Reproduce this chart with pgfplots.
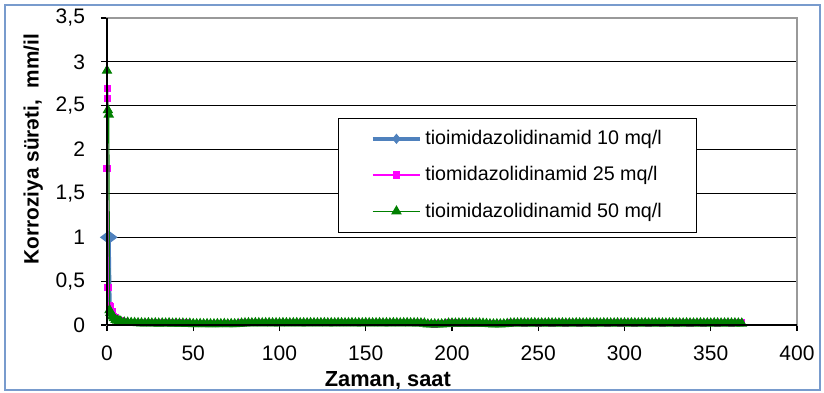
\documentclass[border=0pt]{standalone}
\usepackage{fontspec}
\setmainfont{Liberation Sans}
\usepackage{pgfplots}
\usepackage{pgfplotstable}
\pgfplotsset{compat=1.18}
\definecolor{exblue}{RGB}{79,129,189}
\definecolor{frameblue}{RGB}{120,155,205}
\definecolor{exgreen}{RGB}{0,128,0}
\definecolor{exmag}{RGB}{255,0,255}
\pgfplotsset{
  std legend/.style={legend image code/.code={\draw[##1, mark indices={2}] plot coordinates {(0cm,0cm) (0.42cm,0cm) (0.84cm,0cm)};}},
  blue legend/.style={legend image code/.code={\draw[##1, mark indices={2}, mark size=2.2pt, mark options={line width=0.5pt, xscale=1.1}] plot coordinates {(0cm,0cm) (0.42cm,0cm) (0.84cm,0cm)};}},
}

\pgfplotstableread[row sep=\\]{
x y\\
1 1.00\\ 1.6 0.15\\ 2 0.10\\ 4 0.07\\ 6 0.05\\ 8 0.04\\ 12 0.03\\ 20 0.022\\ 28 0.020\\ 36 0.019\\ 44 0.017\\ 52 0.012\\ 60 0.011\\ 68 0.012\\ 76 0.013\\ 84 0.021\\ 92 0.022\\ 100 0.021\\ 108 0.022\\ 116 0.021\\ 124 0.022\\ 132 0.021\\ 140 0.022\\ 148 0.021\\ 156 0.022\\ 164 0.021\\ 172 0.022\\ 180 0.021\\ 188 0.009\\ 196 0.010\\ 204 0.018\\ 212 0.019\\ 220 0.018\\ 228 0.011\\ 236 0.020\\ 244 0.021\\ 252 0.020\\ 260 0.021\\ 268 0.020\\ 276 0.021\\ 284 0.020\\ 292 0.021\\ 300 0.020\\ 308 0.021\\ 316 0.020\\ 324 0.021\\ 332 0.020\\ 340 0.021\\ 348 0.020\\ 356 0.021\\ 364 0.020\\ 368 0.019\\
}\tblue

\pgfplotstableread[row sep=\\]{
x y\\
0 1.78\\ 0.2 2.58\\ 0.4 2.70\\ 0.6 0.43\\ 1.5 0.22\\ 2 0.21\\ 3 0.15\\ 4 0.10\\ 5 0.08\\ 6 0.06\\ 8 0.05\\ 10 0.04\\ 14 0.032\\ 18 0.028\\ 22 0.026\\ 26 0.027\\ 30 0.025\\ 34 0.026\\ 38 0.024\\ 42 0.025\\ 46 0.022\\ 50 0.016\\ 54 0.015\\ 58 0.016\\ 62 0.014\\ 66 0.016\\ 70 0.015\\ 74 0.016\\ 78 0.022\\ 82 0.025\\ 86 0.026\\ 90 0.025\\ 94 0.026\\ 98 0.025\\ 102 0.027\\ 106 0.030\\ 110 0.026\\ 114 0.025\\ 118 0.026\\ 122 0.025\\ 126 0.026\\ 130 0.025\\ 134 0.026\\ 138 0.025\\ 142 0.026\\ 146 0.025\\ 150 0.026\\ 154 0.025\\ 158 0.026\\ 162 0.025\\ 166 0.026\\ 170 0.025\\ 174 0.026\\ 178 0.025\\ 182 0.024\\ 186 0.013\\ 190 0.012\\ 194 0.013\\ 198 0.022\\ 202 0.023\\ 206 0.022\\ 210 0.023\\ 214 0.022\\ 218 0.021\\ 222 0.015\\ 226 0.014\\ 230 0.015\\ 234 0.023\\ 238 0.024\\ 242 0.023\\ 246 0.024\\ 250 0.023\\ 254 0.024\\ 258 0.023\\ 262 0.024\\ 266 0.023\\ 270 0.024\\ 274 0.023\\ 278 0.024\\ 282 0.023\\ 286 0.024\\ 290 0.023\\ 294 0.024\\ 298 0.023\\ 302 0.024\\ 306 0.023\\ 310 0.024\\ 314 0.023\\ 318 0.024\\ 322 0.023\\ 326 0.024\\ 330 0.023\\ 334 0.024\\ 338 0.023\\ 342 0.024\\ 346 0.023\\ 350 0.024\\ 354 0.023\\ 358 0.024\\ 362 0.023\\ 366 0.026\\ 368 0.024\\
}\tpink

\pgfplotstableread[row sep=\\]{
x y\\
0 2.90\\ 0.5 2.45\\ 1 2.40\\ 1.5 0.17\\ 2 0.14\\ 3 0.10\\ 4 0.08\\ 5 0.06\\ 6 0.05\\ 7 0.045\\ 8 0.040\\
10 0.030\\ 12 0.028\\ 14 0.025\\ 16 0.024\\ 18 0.022\\ 20 0.021\\ 22 0.020\\ 24 0.022\\ 26 0.019\\ 28 0.021\\ 30 0.018\\ 32 0.020\\ 34 0.019\\ 36 0.021\\ 38 0.017\\ 40 0.019\\ 42 0.016\\ 44 0.018\\ 46 0.015\\ 48 0.017\\
50 0.012\\ 52 0.011\\ 54 0.013\\ 56 0.010\\ 58 0.012\\ 60 0.011\\ 62 0.010\\ 64 0.012\\ 66 0.011\\ 68 0.013\\ 70 0.010\\ 72 0.012\\ 74 0.011\\ 76 0.013\\ 78 0.018\\
80 0.021\\ 82 0.022\\ 84 0.021\\ 86 0.023\\ 88 0.022\\ 90 0.021\\ 92 0.022\\ 94 0.023\\ 96 0.021\\ 98 0.022\\ 100 0.021\\ 102 0.023\\ 104 0.022\\ 106 0.021\\ 108 0.022\\ 110 0.023\\ 112 0.021\\ 114 0.022\\ 116 0.021\\ 118 0.023\\ 120 0.022\\ 122 0.021\\ 124 0.022\\ 126 0.023\\ 128 0.021\\ 130 0.022\\ 132 0.021\\ 134 0.023\\ 136 0.022\\ 138 0.021\\ 140 0.022\\ 142 0.023\\ 144 0.021\\ 146 0.022\\ 148 0.021\\ 150 0.023\\ 152 0.022\\ 154 0.021\\ 156 0.022\\ 158 0.023\\ 160 0.021\\ 162 0.022\\ 164 0.021\\ 166 0.023\\ 168 0.022\\ 170 0.021\\ 172 0.022\\ 174 0.023\\ 176 0.021\\ 178 0.022\\ 180 0.021\\ 182 0.020\\ 184 0.018\\
186 0.009\\ 188 0.008\\ 190 0.009\\ 192 0.008\\ 194 0.009\\ 196 0.012\\
198 0.018\\ 200 0.019\\ 202 0.018\\ 204 0.019\\ 206 0.018\\ 208 0.019\\ 210 0.018\\ 212 0.019\\ 214 0.018\\ 216 0.019\\ 218 0.017\\ 220 0.014\\
222 0.010\\ 224 0.009\\ 226 0.010\\ 228 0.009\\ 230 0.010\\ 232 0.014\\
234 0.019\\ 236 0.020\\ 238 0.019\\ 240 0.021\\ 242 0.020\\ 244 0.019\\ 246 0.020\\ 248 0.021\\ 250 0.019\\ 252 0.020\\ 254 0.019\\ 256 0.021\\ 258 0.020\\ 260 0.019\\ 262 0.020\\ 264 0.021\\ 266 0.019\\ 268 0.020\\ 270 0.019\\ 272 0.021\\ 274 0.020\\ 276 0.019\\ 278 0.020\\ 280 0.021\\ 282 0.019\\ 284 0.020\\ 286 0.019\\ 288 0.021\\ 290 0.020\\ 292 0.019\\ 294 0.020\\ 296 0.021\\ 298 0.019\\ 300 0.020\\ 302 0.019\\ 304 0.021\\ 306 0.020\\ 308 0.019\\ 310 0.020\\ 312 0.021\\ 314 0.019\\ 316 0.020\\ 318 0.019\\ 320 0.021\\ 322 0.020\\ 324 0.019\\ 326 0.020\\ 328 0.021\\ 330 0.019\\ 332 0.020\\ 334 0.019\\ 336 0.021\\ 338 0.020\\ 340 0.019\\ 342 0.020\\ 344 0.021\\ 346 0.019\\ 348 0.020\\ 350 0.019\\ 352 0.021\\ 354 0.020\\ 356 0.019\\ 358 0.020\\ 360 0.021\\ 362 0.019\\ 364 0.020\\ 366 0.019\\ 368 0.018\\
}\tgreen

\begin{document}
\begin{tikzpicture}[x=1pt,y=1pt]
\begin{axis}[
  at={(0,0)}, anchor=origin,
  scale only axis, width=345pt, height=153.5pt,
  xmin=0, xmax=400, ymin=0, ymax=3.5,
  xtick={0,50,100,150,200,250,300,350,400},
  ytick={0,0.5,1,1.5,2,2.5,3,3.5},
  ymajorgrids,
  grid style={black, line width=0.6pt},
  axis line style={gray!80, line width=0.6pt},
  tick align=outside, xtick pos=bottom, ytick pos=left,
  tick style={black, line width=0.6pt},
  major tick length=3pt,
  ticklabel style={font=\fontsize{10.5}{12}\selectfont},
  xticklabel style={yshift=-4pt},
  yticklabel style={xshift=-4.5pt},
  /pgf/number format/use comma,
  /pgf/number format/assume math mode=true,
  xlabel={\bfseries Zaman, saat},
  ylabel={\bfseries Korroziya sürəti,\ \ mm/il},
  x label style={at={(axis description cs:0.407,-0.183)}, anchor=center, font=\fontsize{10.9}{12}\selectfont},
  y label style={at={(axis description cs:-0.107,0.573)}, anchor=center, font=\fontsize{10.4}{12}\selectfont},
  clip mode=individual,
  legend cell align=left,
  legend style={at={(rel axis cs:0.335,0.675)}, anchor=north west, draw=black, fill=white,
    font=\fontsize{9.85}{11}\selectfont, row sep=5.5pt, inner xsep=16pt, inner ysep=4pt,
    nodes={inner xsep=1.5pt}},
  std legend,
]
\addplot[exblue, line width=2pt, mark=diamond*, mark size=3pt, mark indices={1}, mark options={line width=0.5pt, xscale=1.78}, blue legend] table[x=x,y=y] {\tblue};
\addlegendentry{tioimidazolidinamid 10 mq/l}
\addplot[exmag, line width=0.6pt, mark=square*, mark size=1.5pt] table[x=x,y=y] {\tpink};
\addlegendentry{tiomidazolidinamid 25 mq/l}
\addplot[exgreen, line width=0.6pt, mark=triangle*, mark size=2.5pt] table[x=x,y=y] {\tgreen};
\addlegendentry{tioimidazolidinamid 50 mq/l}
\draw[black, line width=0.6pt] (rel axis cs:0,0) -- (rel axis cs:0,1);
\draw[black, line width=0.6pt] (rel axis cs:0,0) -- (rel axis cs:1,0);
\end{axis}
\pgfresetboundingbox
\draw[frameblue, line width=1pt] (-51,-32.5) rectangle (356.5,160);
\useasboundingbox (-53.5,-33.5) rectangle (358.5,162.5);
\end{tikzpicture}
\end{document}
